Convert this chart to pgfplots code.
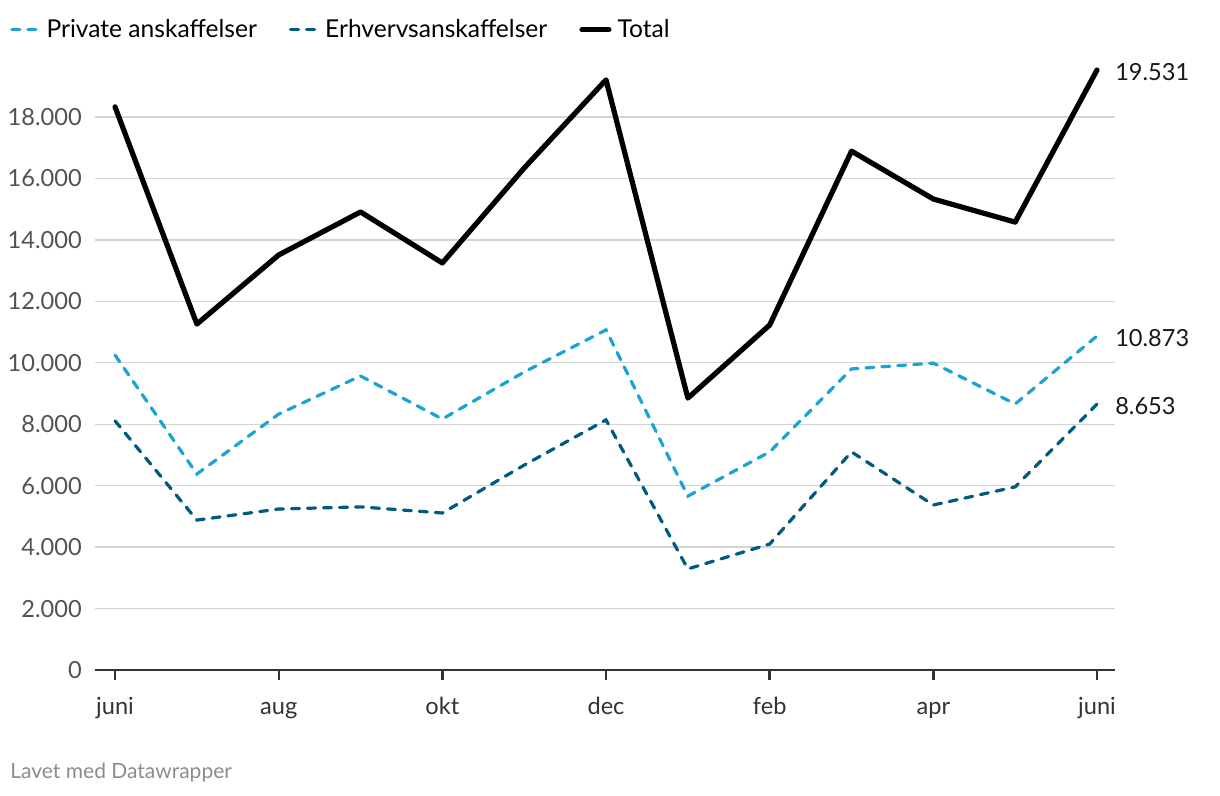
\documentclass[border=0pt]{standalone}
\usepackage{pgfplots}
\pgfplotsset{compat=1.18}
\usepackage{fontspec}
\setmainfont{Lato}
\definecolor{priv}{HTML}{1BA3D2}
\definecolor{erhv}{HTML}{005A80}
\definecolor{gridc}{HTML}{D4D4D4}
\definecolor{txt}{HTML}{333333}
\begin{document}
\fontsize{11.8pt}{14pt}\selectfont
\begin{tikzpicture}
\path[use as bounding box] (0pt,0pt) rectangle (610pt,398pt);
\begin{axis}[
  at={(47.5pt,63pt)}, anchor=south west,
  scale only axis, width=510pt, height=307.2pt,
  xmin=-0.245, xmax=12.22, ymin=0, ymax=20000,
  clip=false,
  axis line style={draw=none},
  axis x line*=bottom, axis y line*=left,
  xtick={0,2,4,6,8,10,12},
  xticklabels={juni,aug,okt,dec,feb,apr,juni},
  x tick style={txt, line width=1.2pt},
  tick align=outside, major tick length=5pt,
  x tick label style={font=\fontsize{11.8pt}{14pt}\selectfont, text=txt, text height=0.75em, text depth=0.22em, yshift=-4.5pt},
  ytick={0,2000,...,18000},
  scaled y ticks=false,
  y tick style={draw=none},
  y tick label style={font=\fontsize{11.8pt}{14pt}\selectfont, text=txt!85!white, xshift=2.5pt},
  yticklabel={\pgfmathprintnumber[/pgf/number format/.cd,fixed,1000 sep={.},assume math mode=true]{\tick}},
  ymajorgrids, grid style={gridc, line width=0.7pt},
  legend style={at={(-0.083,1.042)}, anchor=west, draw=none, fill=none, legend columns=3,
    inner sep=0pt, outer sep=0pt,
    font=\fontsize{12.3pt}{14pt}\selectfont, text=black,
    /tikz/every odd column/.append style={column sep=1pt},
    /tikz/every even column/.append style={column sep=14pt}},
  legend image code/.code={\draw[#1] (0pt,0pt) -- (13.5pt,0pt);},
]
\draw[txt, line width=1.2pt] (axis cs:-0.245,0) -- (axis cs:12.22,0);
\addplot[priv, line width=1.6pt, dash pattern=on 4pt off 4pt, line cap=round] coordinates {
(0,10250) (1,6380) (2,8330) (3,9570) (4,8170) (5,9700) (6,11070) (7,5660) (8,7100) (9,9800) (10,9990) (11,8660) (12,10873)};
\addlegendentry{Private anskaffelser}
\addplot[erhv, line width=1.6pt, dash pattern=on 4pt off 4pt, line cap=round] coordinates {
(0,8110) (1,4880) (2,5240) (3,5310) (4,5110) (5,6670) (6,8140) (7,3290) (8,4100) (9,7100) (10,5370) (11,5960) (12,8653)};
\addlegendentry{Erhvervsanskaffelser}
\addplot[black, line width=2.6pt, line join=round, line cap=round] coordinates {
(0,18330) (1,11260) (2,13510) (3,14910) (4,13250) (5,16340) (6,19210) (7,8850) (8,11230) (9,16890) (10,15330) (11,14580) (12,19531)};
\addlegendentry{Total}
\node[anchor=west, text=black!90] at (axis cs:12,19531) [xshift=5pt, yshift=-1pt] {19.531};
\node[anchor=west, text=black!90] at (axis cs:12,10873) [xshift=5pt, yshift=-1pt] {10.873};
\node[anchor=west, text=black!90] at (axis cs:12,8653) [xshift=5pt, yshift=-1pt] {8.653};
\end{axis}
\node[anchor=west, text=black!45, font=\fontsize{10.5pt}{12pt}\selectfont, inner sep=0pt] at (5pt,11.5pt) {Lavet med Datawrapper};
\end{tikzpicture}
\end{document}
